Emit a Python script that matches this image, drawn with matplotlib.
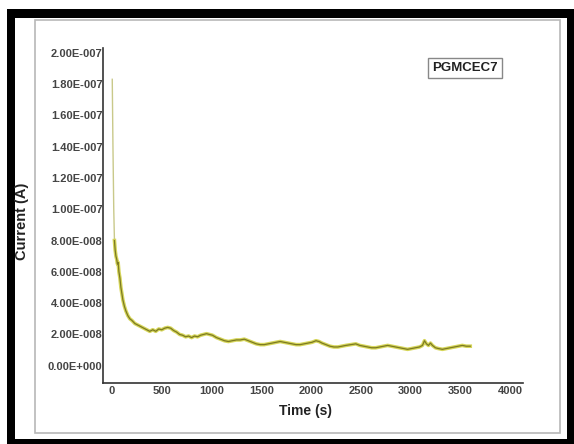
import matplotlib
matplotlib.use("Agg")
import matplotlib.pyplot as plt
from matplotlib.patches import Rectangle
import numpy as np

# ---- data (current in units of 1e-8 A) ----
time_s = [3, 10, 18, 25, 32, 40, 48, 55, 62, 70, 80, 90, 100, 110, 125, 140, 160, 180,
          200, 230, 260, 290, 320, 350, 380, 410, 440, 470, 500, 530, 560, 590, 620,
          650, 680, 710, 740, 770, 800, 830, 860, 890, 920, 950, 980, 1010, 1050, 1090,
          1130, 1170, 1210, 1250, 1290, 1330, 1370, 1410, 1450, 1490, 1530, 1570, 1610,
          1650, 1690, 1730, 1770, 1810, 1850, 1890, 1930, 1970, 2010, 2050, 2080, 2110,
          2150, 2190, 2230, 2270, 2310, 2350, 2400, 2450, 2490, 2530, 2570, 2610, 2650,
          2690, 2730, 2770, 2810, 2850, 2890, 2930, 2970, 3010, 3050, 3090, 3120, 3140,
          3160, 3180, 3200, 3220, 3250, 3280, 3320, 3360, 3400, 3440, 3480, 3520, 3560,
          3600]
current_e8 = [18.3, 14.0, 10.0, 8.0, 7.4, 7.0, 6.8, 6.5, 6.6, 6.0, 5.6, 5.0, 4.6, 4.2,
              3.8, 3.5, 3.2, 3.0, 2.9, 2.7, 2.6, 2.5, 2.4, 2.3, 2.2, 2.3, 2.2, 2.35, 2.3,
              2.4, 2.45, 2.4, 2.25, 2.15, 2.0, 1.95, 1.85, 1.9, 1.8, 1.9, 1.85, 1.95, 2.0,
              2.05, 2.0, 1.95, 1.8, 1.7, 1.6, 1.55, 1.6, 1.65, 1.65, 1.7, 1.6, 1.5, 1.4,
              1.35, 1.35, 1.4, 1.45, 1.5, 1.55, 1.5, 1.45, 1.4, 1.35, 1.35, 1.4, 1.45, 1.5,
              1.6, 1.55, 1.45, 1.35, 1.25, 1.2, 1.2, 1.25, 1.3, 1.35, 1.4, 1.3, 1.25, 1.2,
              1.15, 1.15, 1.2, 1.25, 1.3, 1.25, 1.2, 1.15, 1.1, 1.05, 1.1, 1.15, 1.2, 1.3,
              1.6, 1.4, 1.3, 1.45, 1.3, 1.15, 1.1, 1.05, 1.1, 1.15, 1.2, 1.25, 1.3, 1.25,
              1.25]
y_ticks = [0, 2e-8, 4e-8, 6e-8, 8e-8, 1e-7, 1.2e-7, 1.4e-7, 1.6e-7, 1.8e-7, 2e-7]
y_tick_labels = ["0.00E+000", "2.00E-008", "4.00E-008", "6.00E-008", "8.00E-008",
                 "1.00E-007", "1.20E-007", "1.40E-007", "1.60E-007", "1.80E-007",
                 "2.00E-007"]
x_ticks = [0, 500, 1000, 1500, 2000, 2500, 3000, 3500, 4000]
sample_name = "PGMCEC7"

W, H = 574, 444
plt.rcParams['font.family'] = ['Liberation Sans', 'DejaVu Sans']
fig = plt.figure(figsize=(W / 100, H / 100), dpi=100, facecolor='white')

def px_rect(x0, y0, x1, y1, z, **kw):
    fig.patches.append(Rectangle((x0 / W, 1 - y1 / H), (x1 - x0) / W, (y1 - y0) / H,
                                 transform=fig.transFigure, figure=fig, zorder=z, **kw))

# black frame
px_rect(7, 9, 574, 444, -3, facecolor='black', edgecolor='none')
px_rect(15, 18, 567, 439, -2, facecolor='white', edgecolor='none')
# grey inner border
px_rect(35, 20, 560, 433, -1, facecolor='none', edgecolor='#b8b8b8', linewidth=1.2)

ax = fig.add_axes([103.3 / W, 1 - 383.3 / H, (523 - 103.3) / W, (383.3 - 48) / H])
ax.set_facecolor('none')
ax.set_zorder(5)

t = np.array(time_s)
cur = np.array(current_e8) * 1e-8
split = 4  # the initial spike is drawn thin and pale, as in the original
ax.plot(t[:split], cur[:split], color='#c9c98a', linewidth=1.0, zorder=2)
ax.plot(t[split - 1:], cur[split - 1:], color='#d6d65a', linewidth=2.6,
        solid_joinstyle='round', zorder=2)
ax.plot(t[split - 1:], cur[split - 1:], color='#7c7a22', linewidth=0.9, zorder=3)

ax.set_xlim(-87, 4130)
ax.set_ylim(-1.12e-8, 2.03e-7)
ax.set_yticks(y_ticks)
ax.set_yticklabels(y_tick_labels)
ax.set_xticks(x_ticks)
ax.set_xticklabels([str(v) for v in x_ticks])
ax.tick_params(axis='both', length=0, labelsize=8, colors='#444444')
ax.tick_params(axis='y', pad=0.5)
ax.tick_params(axis='x', pad=2)
for lab in ax.get_xticklabels() + ax.get_yticklabels():
    lab.set_fontweight('bold')

for s in ['top', 'right']:
    ax.spines[s].set_visible(False)
for s in ['left', 'bottom']:
    ax.spines[s].set_color('#333333')
    ax.spines[s].set_linewidth(1.2)

fig.text(22 / W, 1 - 221 / H, "Current (A)", rotation=90, ha='center', va='center',
         fontsize=10.5, fontweight='bold', color='#222222', zorder=6)
fig.text(306 / W, 1 - 411 / H, "Time (s)", ha='center', va='center',
         fontsize=10, fontweight='bold', color='#222222', zorder=6)
fig.text(465 / W, 1 - 68 / H, sample_name, ha='center', va='center',
         fontsize=9.5, fontweight='bold', color='#222222', zorder=6,
         bbox=dict(boxstyle='square,pad=0.3', facecolor='white', edgecolor='#888888',
                   linewidth=1.0))

fig.savefig("out.png", dpi=100, facecolor='white')
